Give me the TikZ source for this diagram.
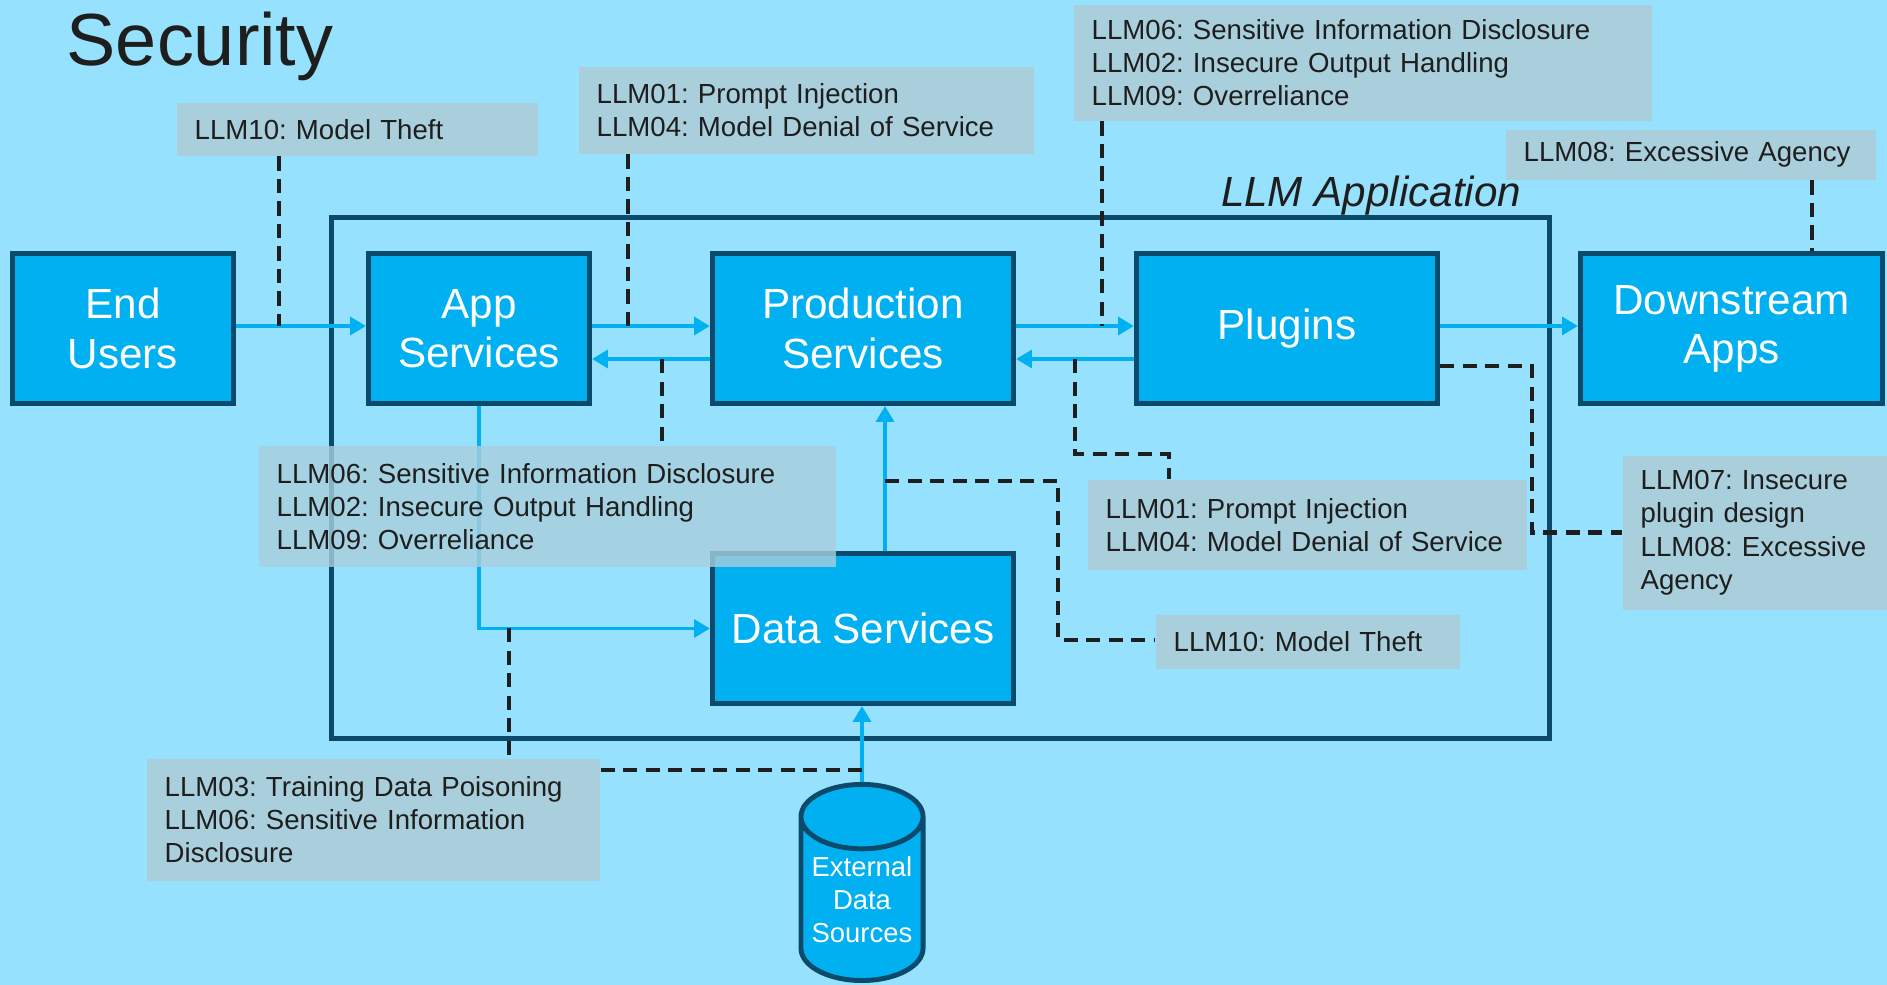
\documentclass[tikz,border=0pt]{standalone}
\usepackage{fontspec}
\setmainfont{Liberation Sans}
\usetikzlibrary{arrows.meta,shapes.geometric}

\definecolor{bgblue}{HTML}{96E2FE}
\definecolor{boxblue}{HTML}{00B0F0}
\definecolor{navy}{HTML}{0B4A6B}
\definecolor{riskgray}{HTML}{A9CFDC}
\definecolor{ink}{HTML}{1E1E1E}
\frenchspacing

\begin{document}
\begin{tikzpicture}[x=0.01cm,y=-0.01cm,>={Triangle[length=4.5pt,width=5pt]},
    comp/.style={draw=navy,line width=1.4pt,fill=boxblue,text=white,align=center,
      font=\fontsize{12}{14}\selectfont,minimum height=1.50cm,inner sep=0pt},
    flow/.style={->,draw=boxblue,line width=1.1pt},
    risk/.style={fill=riskgray,text=ink,anchor=north west,align=left,
      inner xsep=0.18cm,inner ysep=0pt,font=\fontsize{7.85}{9.4}\selectfont},
    hook/.style={draw=ink,line width=1.4pt,dash pattern=on 4pt off 2.4pt}]
    \fill[bgblue] (0,0) rectangle (1887,985);
    \useasboundingbox (0,0) rectangle (1887,985);

    \node[anchor=base west,inner sep=0pt,text=ink,font=\fontsize{21}{24}\selectfont]
      (title) at (66,66) {Security};

    % the application frame
    \node[draw=navy,line width=1.4pt,minimum width=12.17cm,minimum height=5.20cm]
      (llmapp) at (940.5,478) {};
    \node[anchor=base east,inner sep=0pt,text=ink,font=\fontsize{12}{14}\selectfont\itshape]
      (applabel) at (1522,207) {LLM Application};

    \node[comp,minimum width=2.21cm] (users) at (123,328.5) {End\\Users};
    \node[comp,minimum width=2.21cm] (app) at (479,328.5) {App\\Services};
    \node[comp,minimum width=3.01cm] (prod) at (863,328.5) {Production\\Services};
    \node[comp,minimum width=3.01cm] (plug) at (1287,328.5) {Plugins};
    \node[comp,minimum width=3.02cm] (down) at (1731.5,328.5) {Downstream\\Apps};
    \node[comp,minimum width=3.01cm] (data) at (863,628.5) {Data Services};
    \node[cylinder,shape border rotate=90,aspect=0.64,draw=navy,line width=1.4pt,
      fill=boxblue,text=white,align=center,inner sep=0pt,anchor=south,
      minimum width=1.22cm,minimum height=1.96cm,font=\fontsize{7.8}{9.4}\selectfont]
      (ext) at (862,983) {External\\Data\\Sources};

    \coordinate (hi) at (0,326);
    \coordinate (lo) at (0,359);
    \draw[flow] (users.east |- hi) -- (app.west |- hi);
    \draw[flow] (app.east |- hi) -- (prod.west |- hi);
    \draw[flow] (prod.west |- lo) -- (app.east |- lo);
    \draw[flow] (prod.east |- hi) -- (plug.west |- hi);
    \draw[flow] (plug.west |- lo) -- (prod.east |- lo);
    \draw[flow] (plug.east |- hi) -- (down.west |- hi);
    \draw[flow] (app.south) |- (data.west);
    \coordinate (tData) at (885,481);
    \draw[flow] (data.north -| tData) -- (prod.south -| tData);
    \draw[flow] (ext.north) -- (ext.north |- data.south);

    % risk labels
    \node[risk,text width=3.25cm,minimum height=0.53cm] (r10a) at (176,102)
      {LLM10: Model Theft};
    \node[risk,text width=4.19cm,minimum height=0.87cm] (r01a) at (578,66)
      {LLM01: Prompt Injection\\LLM04: Model Denial of Service};
    \node[risk,text width=5.42cm,minimum height=1.16cm] (r06a) at (1073,4)
      {LLM06: Sensitive Information Disclosure\\LLM02: Insecure Output Handling\\LLM09: Overreliance};
    \node[risk,text width=3.34cm,minimum height=0.50cm] (r08a) at (1505,129)
      {LLM08: Excessive Agency};
    \node[risk,fill opacity=0.8,text opacity=1,text width=5.41cm,minimum height=1.21cm]
      (r06b) at (258,445)
      {LLM06: Sensitive Information Disclosure\\LLM02: Insecure Output Handling\\LLM09: Overreliance};
    \node[risk,text width=4.03cm,minimum height=0.90cm] (r01b) at (1087,479)
      {LLM01: Prompt Injection\\LLM04: Model Denial of Service};
    \node[risk,text width=2.68cm,minimum height=0.54cm] (r10b) at (1155,614)
      {LLM10: Model Theft};
    \node[risk,text width=2.34cm,minimum height=1.54cm] (r07) at (1622,455)
      {LLM07: Insecure\\plugin design\\LLM08: Excessive\\Agency};
    \node[risk,text width=4.17cm,minimum height=1.22cm] (r03) at (146,758)
      {LLM03: Training Data Poisoning\\LLM06: Sensitive Information\\Disclosure};

    % dashed links
    \coordinate (tUsers) at (279,326);
    \coordinate (tApp) at (628,326);
    \coordinate (tProd) at (1102,326);
    \coordinate (tDown) at (1812,0);
    \coordinate (tBack) at (662,359);
    \coordinate (tPlugBack) at (1075,359);
    \coordinate (tDataLink) at (509,628);
    \coordinate (tExt) at (862,770);
    \coordinate (bend1) at (1169,454);
    \coordinate (bend2) at (1058,640);
    \coordinate (bend3) at (1532,366);
    \draw[hook] (r10a.south -| tUsers) -- (tUsers);
    \draw[hook] (r01a.south -| tApp) -- (tApp);
    \draw[hook] (r06a.south -| tProd) -- (tProd);
    \draw[hook] (r08a.south -| tDown) -- (down.north -| tDown);
    \draw[hook] (tBack) -- (r06b.north -| tBack);
    \draw[hook] (tPlugBack) |- (bend1) -- (r01b.north -| bend1);
    \draw[hook] (tData) -| (bend2) -- (r10b.west |- bend2);
    \draw[hook] (plug.east |- bend3) -- (bend3) |- (r07.west);
    \draw[hook] (tDataLink) -- (r03.north -| tDataLink);
    \draw[hook] (r03.east |- tExt) -- (tExt);
\end{tikzpicture}
\end{document}
